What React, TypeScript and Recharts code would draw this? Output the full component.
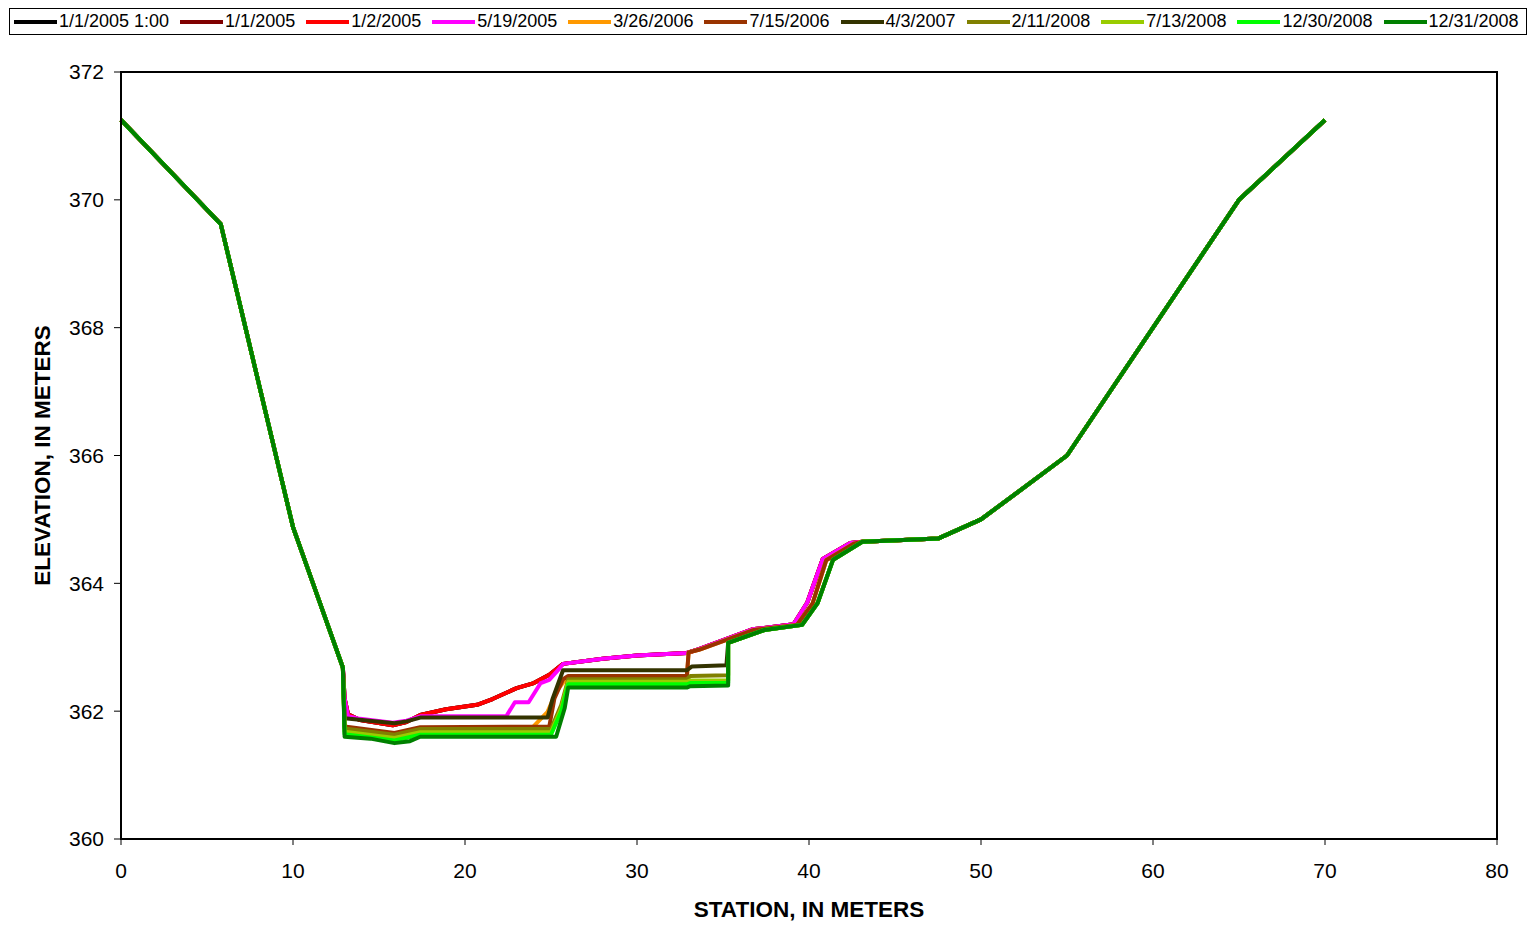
import React from 'react'
import { LineChart, Line, XAxis, YAxis, ReferenceArea, Legend } from 'recharts'

// left bank, shared by every survey
const bankLeftX = [0, 5.8, 10, 12.9]
const bankLeftY = [371.25, 369.62, 364.88, 362.68]

// right bank, shared by every survey
const bankRightX = [43.1, 47.5, 50, 55, 65, 70]
const bankRightY = [364.65, 364.7, 365.0, 366.0, 370.0, 371.25]

// upper slope, 2005 surveys
const slope2005X = [33.6, 36.7, 39.1, 39.9, 40.8, 42.4]
const slope2005Y = [362.97, 363.28, 363.36, 363.7, 364.38, 364.63]

// upper slope, 2006 surveys
const slope2006X = [33.6, 36.8, 39.3, 40.2, 41.0, 42.6]
const slope2006Y = [362.96, 363.27, 363.35, 363.68, 364.36, 364.62]

// upper slope, 2007-2008 surveys
const slope2008X = [37.4, 39.6, 40.5, 41.4]
const slope2008Y = [363.27, 363.35, 363.69, 364.37]

// channel bed per survey
const chRedX = [13.0, 13.2, 13.9, 15.8, 16.6, 17.4, 18.9, 20.7, 21.6, 23.0, 24.0, 24.9, 25.7, 28.0, 30.0, 32.9]
const chRedY = [362.2, 361.95, 361.86, 361.78, 361.83, 361.94, 362.03, 362.1, 362.19, 362.36, 362.44, 362.57, 362.74, 362.82, 362.87, 362.91]

const chMayX = [13.0, 13.2, 13.9, 15.8, 16.6, 17.4, 22.4, 22.9, 23.7, 24.4, 24.9, 25.5, 25.7, 28.0, 30.0, 32.9]
const chMayY = [362.2, 361.92, 361.88, 361.82, 361.85, 361.92, 361.92, 362.14, 362.14, 362.44, 362.49, 362.67, 362.74, 362.82, 362.87, 362.91]

const chMar06X = [13.0, 15.9, 17.4, 23.9, 24.8, 25.3, 25.9, 32.9, 33.0]
const chMar06Y = [361.74, 361.64, 361.73, 361.74, 361.99, 362.3, 362.52, 362.52, 362.92]

const chJul06X = [13.0, 15.9, 17.4, 24.9, 25.2, 25.7, 26.0, 32.9, 33.0]
const chJul06Y = [361.76, 361.66, 361.75, 361.76, 362.2, 362.5, 362.55, 362.55, 362.92]

const chApr07X = [13.0, 15.9, 16.6, 17.4, 24.8, 25.1, 25.7, 32.9, 33.2, 35.2, 35.3]
const chApr07Y = [361.89, 361.81, 361.84, 361.9, 361.9, 362.2, 362.64, 362.64, 362.7, 362.72, 363.07]

const ch2008X = [13.0, 15.9, 17.4, 25.0, 25.6, 26.0, 32.9, 33.1, 35.3, 35.3]
const chFeb08Y = [361.73, 361.63, 361.72, 361.72, 362.1, 362.5, 362.5, 362.55, 362.56, 363.07]
const chJul08Y = [361.68, 361.58, 361.67, 361.67, 362.05, 362.46, 362.46, 362.48, 362.48, 363.07]
const chDec30Y = [361.64, 361.54, 361.63, 361.63, 362.0, 362.42, 362.42, 362.44, 362.44, 363.07]

const chDec31X = [13.0, 14.5, 15.9, 16.8, 17.4, 25.3, 25.8, 26.0, 32.9, 33.1, 35.3, 35.3]
const chDec31Y = [361.6, 361.57, 361.5, 361.53, 361.6, 361.6, 362.05, 362.37, 362.37, 362.39, 362.4, 363.07]

const xTicks = [0, 10, 20, 30, 40, 50, 60, 70, 80]
const yTicks = [360, 362, 364, 366, 368, 370, 372]

function profile(chX: number[], chY: number[], slX: number[], slY: number[]) {
  const xs = [...bankLeftX, ...chX, ...slX, ...bankRightX]
  const ys = [...bankLeftY, ...chY, ...slY, ...bankRightY]
  return xs.map((x, i) => ({ x, y: ys[i] }))
}

const series = [
  { name: '1/1/2005 1:00', color: '#000000', data: profile(chRedX, chRedY, slope2005X, slope2005Y) },
  { name: '1/1/2005', color: '#800000', data: profile(chRedX, chRedY, slope2005X, slope2005Y) },
  { name: '1/2/2005', color: '#FF0000', data: profile(chRedX, chRedY, slope2005X, slope2005Y) },
  { name: '5/19/2005', color: '#FF00FF', data: profile(chMayX, chMayY, slope2005X, slope2005Y) },
  { name: '3/26/2006', color: '#FF9900', data: profile(chMar06X, chMar06Y, slope2006X, slope2006Y) },
  { name: '7/15/2006', color: '#993300', data: profile(chJul06X, chJul06Y, slope2006X, slope2006Y) },
  { name: '4/3/2007', color: '#333300', data: profile(chApr07X, chApr07Y, slope2008X, slope2008Y) },
  { name: '2/11/2008', color: '#808000', data: profile(ch2008X, chFeb08Y, slope2008X, slope2008Y) },
  { name: '7/13/2008', color: '#99CC00', data: profile(ch2008X, chJul08Y, slope2008X, slope2008Y) },
  { name: '12/30/2008', color: '#00FF00', data: profile(ch2008X, chDec30Y, slope2008X, slope2008Y) },
  { name: '12/31/2008', color: '#008000', data: profile(chDec31X, chDec31Y, slope2008X, slope2008Y) },
]

const font = '"Liberation Sans", Arial, sans-serif'

function LegendBox() {
  return (
    <div style={{
      width: 1518, height: 27, boxSizing: 'border-box', border: '1px solid #000',
      display: 'flex', alignItems: 'center', paddingLeft: 4, background: '#fff',
      fontFamily: font, fontSize: 18, color: '#000', whiteSpace: 'nowrap',
    }}>
      {series.map(s => (
        <div key={s.name} style={{ display: 'flex', alignItems: 'center', marginRight: 11 }}>
          <span style={{ display: 'inline-block', width: 43, height: 4, background: s.color, marginRight: 2 }} />
          <span>{s.name}</span>
        </div>
      ))}
    </div>
  )
}

export default function App() {
  return (
    <div style={{ position: 'absolute', left: 0, top: 0, width: 1533, height: 927, background: '#fff', fontFamily: font }}>
      <LineChart width={1533} height={927} margin={{ top: 72, right: 36, bottom: 0, left: 0 }}>
        <XAxis
          type="number"
          dataKey="x"
          domain={[0, 80]}
          ticks={xTicks}
          height={88}
          tickSize={6}
          tickMargin={18}
          axisLine={{ stroke: '#000', strokeWidth: 2 }}
          tickLine={{ stroke: '#000', strokeWidth: 1 }}
          tick={{ fill: '#000', fontSize: 21, fontFamily: font }}
          label={{ value: 'STATION, IN METERS', position: 'insideBottom', offset: 10, style: { fill: '#000', fontSize: 22.5, fontWeight: 'bold', fontFamily: font } }}
        />
        <YAxis
          type="number"
          dataKey="y"
          domain={[360, 372]}
          ticks={yTicks}
          width={121}
          tickSize={7}
          tickMargin={10}
          allowDataOverflow
          axisLine={{ stroke: '#000', strokeWidth: 2 }}
          tickLine={{ stroke: '#000', strokeWidth: 1 }}
          tick={{ fill: '#000', fontSize: 21, fontFamily: font }}
          label={{ value: 'ELEVATION, IN METERS', position: 'insideLeft', angle: -90, offset: 42, style: { textAnchor: 'middle', fill: '#000', fontSize: 22.5, fontWeight: 'bold', fontFamily: font } }}
        />
        <ReferenceArea x1={0} x2={80} y1={360} y2={372} fill="none" fillOpacity={0} stroke="#000" strokeWidth={2} />
        <Legend
          layout="horizontal"
          verticalAlign="middle"
          align="center"
          wrapperStyle={{ position: 'absolute', left: 9, top: 8, width: 1518 }}
          content={() => <LegendBox />}
        />
        {series.map(s => (
          <Line
            key={s.name}
            data={s.data}
            dataKey="y"
            name={s.name}
            type="linear"
            stroke={s.color}
            strokeWidth={4}
            strokeLinejoin="round"
            dot={false}
            activeDot={false}
            isAnimationActive={false}
          />
        ))}
      </LineChart>
    </div>
  )
}
